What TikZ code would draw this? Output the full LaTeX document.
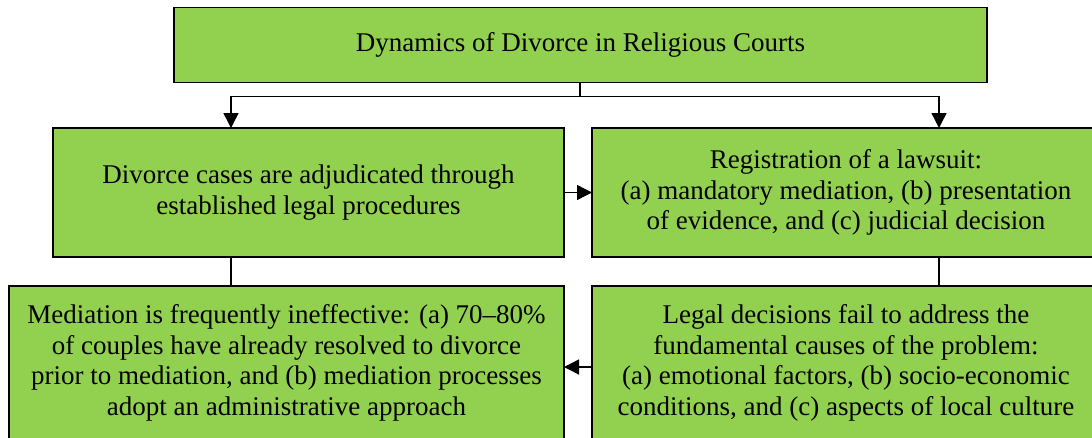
\documentclass[tikz,border=0pt]{standalone}
\usepackage{fontspec}
\setmainfont{Liberation Serif}
\usetikzlibrary{arrows.meta}
\definecolor{boxgreen}{HTML}{92D050}
\begin{document}
\begin{tikzpicture}[x=1pt,y=-1pt,
  gbox/.style={draw=black,line width=1.4pt,fill=boxgreen,inner sep=0pt,outer sep=0pt,
    align=center,font=\fontsize{27}{30.5}\selectfont},
  conn/.style={line width=1.4pt,draw=black},
  arr/.style={conn,-{Triangle[length=15pt,width=15pt]}}]
\useasboundingbox (0,0) rectangle (1092,437);
\clip (0,0) rectangle (1092,437);
\node[gbox,minimum width=813pt,minimum height=75pt] (top) at (580.5,45)
  {Dynamics of Divorce in Religious Courts};
\node[gbox,minimum width=511pt,minimum height=129pt] (ml) at (308.5,192.5)
  {Divorce cases are adjudicated through\\established legal procedures};
\node[gbox,minimum width=508pt,minimum height=129pt] (mr) at (846,192.5)
  {Registration of a lawsuit:\\(a) mandatory mediation, (b) presentation\\of evidence, and (c) judicial decision};
\node[gbox,minimum width=555pt,minimum height=154pt] (bl) at (286.5,363)
  {Mediation is frequently ineffective: (a) 70--80\%\\of couples have already resolved to divorce\\prior to mediation, and (b) mediation processes\\adopt an administrative approach};
\node[gbox,minimum width=508pt,minimum height=154pt] (br) at (846,363)
  {Legal decisions fail to address the\\fundamental causes of the problem:\\(a) emotional factors, (b) socio-economic\\conditions, and (c) aspects of local culture};
\coordinate (j) at (580,96.5);
\coordinate (lx) at (231,0);
\coordinate (rx) at (939,0);
\coordinate (by) at (0,367);
\draw[conn] (top.south -| j) -- (j);
\draw[arr] (j) -| (ml.north -| lx);
\draw[arr] (j) -| (mr.north -| rx);
\draw[arr] (ml.east) -- (mr.west);
\draw[conn] (ml.south -| lx) -- (bl.north -| lx);
\draw[conn] (mr.south -| rx) -- (br.north -| rx);
\draw[arr] (br.west |- by) -- (bl.east |- by);
\end{tikzpicture}
\end{document}
